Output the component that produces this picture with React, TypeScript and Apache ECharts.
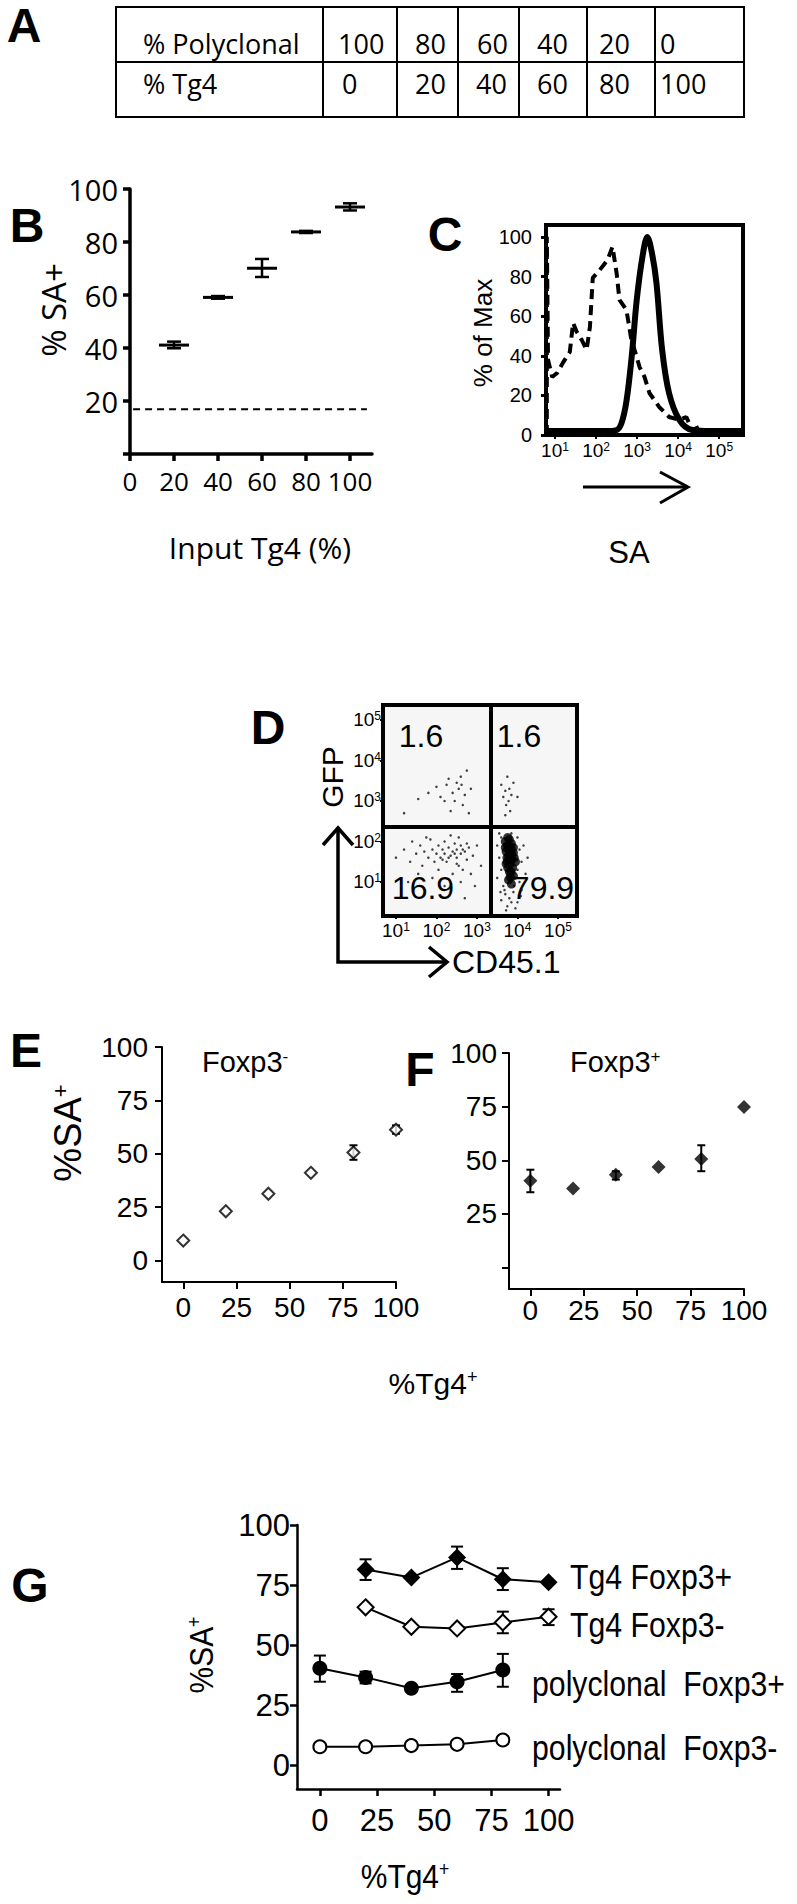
import React, { useEffect, useRef } from 'react';
import * as echarts from 'echarts';

const ARIAL = '"Liberation Sans", Arial, sans-serif';
const OPEN = '"Open Sans", "Liberation Sans", sans-serif';

// ---------- Panel A (table) ----------
const tableRowLabels = ['% Polyclonal', '% Tg4'];
const polyclonalPct = [100, 80, 60, 40, 20, 0];
const tg4Pct = [0, 20, 40, 60, 80, 100];

// ---------- Panel B ----------
const bInput = [20, 40, 60, 80, 100];
const bMean = [41.1, 59.1, 70.1, 83.8, 93.2];
const bLow = [39.9, 58.6, 66.8, 83.4, 91.9];
const bHigh = [42.4, 59.6, 73.6, 84.2, 94.6];
const bBaseline = 16.9;
const bBaselineSpan = [1.4, 107.7];
const bXTicks = [0, 20, 40, 60, 80, 100];
const bYTicks = [0, 20, 40, 60, 80, 100];
const bYLabels = [20, 40, 60, 80, 100];

// ---------- Panel C (histogram, x = log10 SA, y = % of max) ----------
const cSolid = [
  [0.78, 2], [1.5, 2], [2.2, 2], [2.5, 2.5], [2.62, 6], [2.74, 17], [2.87, 40], [2.99, 68],
  [3.13, 90], [3.25, 100], [3.36, 92], [3.47, 77], [3.61, 43], [3.78, 21], [4.03, 7.6],
  [4.34, 2.5], [4.8, 2], [5.58, 2],
];
const cDashed = [
  [0.8, 0], [0.8, 100], [0.83, 37.9], [0.93, 29.3], [1.05, 31.3], [1.19, 36.4], [1.36, 41.9],
  [1.44, 56.6], [1.53, 52], [1.65, 48], [1.77, 43], [1.85, 54.5], [1.92, 79.3], [2.09, 83.3],
  [2.28, 88.4], [2.4, 95], [2.5, 81.8], [2.57, 68.2], [2.74, 63.1], [2.86, 48], [2.99, 39.4],
  [3.06, 34.3], [3.18, 29.3], [3.3, 21.2], [3.54, 14.1], [3.78, 9.1], [4.03, 7.6], [4.2, 9.1],
  [4.34, 2.5], [4.51, 4], [4.75, 1], [5.55, 0.5],
];
const cTicksY = [0, 20, 40, 60, 80, 100];
const cDecades = [1, 2, 3, 4, 5];

// ---------- Panel D (dot plot, log10 CD45.1 vs log10 GFP) ----------
const dSparse = [
  // GFP+ CD45.1-
  [1.55, 3.05], [1.8, 3.2], [2.0, 3.35], [2.1, 3.1], [2.25, 3.4], [2.3, 3.55], [2.4, 3.2], [2.45, 3.0],
  [2.5, 3.45], [2.55, 3.3], [2.6, 3.6], [2.65, 2.9], [2.7, 3.15], [2.75, 3.75], [2.8, 2.7], [2.35, 2.75],
  [1.2, 2.7], [2.85, 3.3], [2.2, 3.0], [2.62, 3.4],
  // GFP+ CD45.1+
  [3.6, 3.4], [3.65, 3.1], [3.7, 3.25], [3.72, 2.9], [3.75, 3.6], [3.78, 3.0], [3.8, 3.3], [3.82, 2.75],
  [3.85, 3.15], [3.7, 2.65], [4.0, 3.1], [3.9, 3.45],
  // GFP- CD45.1-
  [1.0, 1.6], [1.2, 1.8], [1.35, 1.5], [1.4, 2.0], [1.5, 1.7], [1.6, 1.9], [1.65, 1.4], [1.7, 1.75],
  [1.8, 1.6], [1.85, 2.05], [1.9, 1.8], [1.95, 1.5], [2.0, 1.7], [2.05, 1.9], [2.1, 1.6], [2.15, 1.8],
  [2.2, 1.7], [2.2, 2.0], [2.25, 1.5], [2.3, 1.85], [2.35, 1.65], [2.4, 1.75], [2.45, 1.95], [2.5, 1.6],
  [2.5, 1.8], [2.55, 1.4], [2.6, 1.7], [2.6, 1.9], [2.65, 1.3], [2.7, 1.75], [2.75, 1.55], [2.8, 1.85],
  [2.85, 1.2], [2.9, 1.65], [3.0, 1.9], [2.4, 1.2], [2.6, 1.0], [2.2, 0.9], [2.7, 0.6], [1.9, 1.1],
  [3.1, 1.4], [2.35, 2.15], [2.55, 2.1], [1.75, 2.1], [2.95, 0.9], [2.3, 1.6], [2.45, 1.7],
  [2.65, 1.8], [2.15, 1.55], [2.5, 1.45], [2.75, 1.95], [1.55, 1.2], [1.3, 1.0], [2.05, 1.3],
  // GFP- CD45.1+ (outer)
  [3.5, 1.9], [3.55, 1.6], [3.6, 2.1], [3.6, 1.3], [4.0, 2.1], [4.05, 1.8], [4.1, 1.5], [4.15, 1.9],
  [4.2, 1.2], [3.65, 0.9], [3.7, 0.7], [3.8, 0.6], [3.9, 0.75], [4.0, 0.5], [3.75, 0.4], [3.95, 0.35],
  [4.05, 1.0], [3.6, 0.55], [4.1, 0.8], [3.55, 2.2], [3.85, 2.2], [4.25, 1.6], [3.5, 1.1], [4.0, 1.3],
  [3.68, 0.8], [3.85, 0.5], [3.92, 0.9], [3.72, 0.3], [4.08, 0.65], [3.58, 0.75],
];
const dCore = [
  [3.7, 2.0], [3.75, 1.9], [3.8, 2.05], [3.85, 1.95], [3.9, 1.85], [3.72, 1.75], [3.78, 1.65],
  [3.85, 1.7], [3.92, 1.6], [3.75, 1.5], [3.82, 1.45], [3.88, 1.35], [3.95, 1.5], [3.7, 1.85],
  [3.8, 1.25], [3.9, 1.15], [3.78, 1.05], [3.85, 0.95], [3.76, 2.1], [3.84, 1.82], [3.74, 1.6],
  [3.8, 1.55], [3.86, 1.55], [3.76, 1.35], [3.84, 1.25], [3.8, 1.75], [3.9, 1.72], [3.72, 1.45],
  [3.82, 1.12], [3.78, 1.9],
];
const dGateX = 3.35;
const dGateY = 2.37;
const dQuadrantPct = ['1.6', '1.6', '16.9', '79.9'];

// ---------- Panel E (Foxp3-) ----------
const eX = [0, 20, 40, 60, 80, 100];
const eY = [9.4, 23.1, 31.3, 41.1, 50.6, 61.3];
const eLow = [9.4, 23.1, 31.3, 41.1, 47.2, 59.4];
const eHigh = [9.4, 23.1, 31.3, 41.1, 54.0, 63.3];

// ---------- Panel F (Foxp3+) ----------
const fX = [0, 20, 40, 60, 80, 100];
const fY = [40.5, 36.9, 43.3, 46.9, 50.6, 74.8];
const fLow = [35.1, 36.9, 41.0, 46.9, 44.9, 74.8];
const fHigh = [45.6, 36.9, 44.9, 46.9, 57.0, 74.8];

const efTicks = [0, 25, 50, 75, 100];
const fYLabels = [25, 50, 75, 100];

// ---------- Panel G ----------
const gNames = ['Tg4 Foxp3+', 'Tg4 Foxp3-', 'polyclonal  Foxp3+', 'polyclonal  Foxp3-'];
const gTg4X = [20, 40, 60, 80, 100];
const gTg4PosY = [81.5, 78.1, 86.5, 77.4, 76.1];
const gTg4PosLow = [77.1, 78.1, 81.7, 72.9, 76.1];
const gTg4PosHigh = [85.7, 78.1, 91.0, 82.0, 76.1];
const gTg4NegY = [65.7, 57.6, 56.9, 59.4, 61.8];
const gTg4NegLow = [65.7, 57.6, 56.9, 54.9, 58.3];
const gTg4NegHigh = [65.7, 57.6, 56.9, 63.9, 64.9];
const gPolyX = [0, 20, 40, 60, 80];
const gPolyPosY = [40.3, 36.5, 32.0, 34.7, 39.6];
const gPolyPosLow = [34.7, 34.0, 32.0, 30.5, 32.6];
const gPolyPosHigh = [45.6, 38.9, 32.0, 37.9, 46.3];
const gPolyNegY = [7.6, 7.6, 8.1, 8.6, 10.4];

const pairs = (xs: number[], ys: number[]) => xs.map((x, i) => [x, ys[i]]);
const rows = (xs: number[], ys: number[], lo: number[], hi: number[]) =>
  xs.map((x, i) => [x, ys[i], lo[i], hi[i]]);

function errRender(capHalf: number, lw: number, meanHalf = 0, meanLw = 0) {
  return (params: any, api: any) => {
    const x = api.value(0);
    const m = api.value(1);
    const lo = api.value(2);
    const hi = api.value(3);
    const children: any[] = [];
    const pm = api.coord([x, m]);
    if (meanHalf > 0) {
      children.push({
        type: 'line',
        shape: { x1: pm[0] - meanHalf, y1: pm[1], x2: pm[0] + meanHalf, y2: pm[1] },
        style: { stroke: '#000', lineWidth: meanLw },
      });
    }
    if (hi - lo > 0.05) {
      const pl = api.coord([x, lo]);
      const ph = api.coord([x, hi]);
      const st = { stroke: '#000', lineWidth: lw };
      children.push({ type: 'line', shape: { x1: pl[0], y1: pl[1], x2: ph[0], y2: ph[1] }, style: st });
      children.push({ type: 'line', shape: { x1: pl[0] - capHalf, y1: pl[1], x2: pl[0] + capHalf, y2: pl[1] }, style: st });
      children.push({ type: 'line', shape: { x1: ph[0] - capHalf, y1: ph[1], x2: ph[0] + capHalf, y2: ph[1] }, style: st });
    }
    return { type: 'group', children };
  };
}

function axis(
  gridIndex: number, min: number, max: number, lw: number, tickVals: number[], labelVals: number[],
  label: any, tickLen: number, showLine = true
) {
  return {
    gridIndex, type: 'value', min, max,
    axisLine: { show: showLine, onZero: false, lineStyle: { color: '#000', width: lw } },
    axisTick: { show: true, inside: false, length: tickLen, lineStyle: { color: '#000', width: lw }, customValues: tickVals },
    axisLabel: { customValues: labelVals, color: '#000', ...label },
    splitLine: { show: false },
  };
}

function txt(text: string, x: number, y: number, size: number, opts: any = {}) {
  const align = opts.align || 'center';
  const vAlign = opts.vAlign || 'middle';
  return {
    type: 'text', x, y, rotation: opts.rotation || 0, scaleX: opts.scaleX || 1, silent: true,
    style: {
      text, fill: '#000', fontSize: size, fontFamily: opts.family || ARIAL,
      fontWeight: opts.weight || 'normal', lineHeight: opts.lineHeight || size,
      align, verticalAlign: vAlign, textAlign: align, textVerticalAlign: vAlign,
      rich: opts.rich,
    },
  };
}
const supRich = (size: number) => ({
  s: { fontSize: size, lineHeight: Math.round(size * 0.5), verticalAlign: 'top', fontFamily: ARIAL, fill: '#000' },
});
const line = (x1: number, y1: number, x2: number, y2: number, w: number) => ({
  type: 'line', silent: true, shape: { x1, y1, x2, y2 }, style: { stroke: '#000', lineWidth: w },
});
const poly = (pts: number[][], w: number) => ({
  type: 'polyline', silent: true, shape: { points: pts }, style: { stroke: '#000', lineWidth: w, fill: 'none' },
});

function buildGraphic() {
  const g: any[] = [];
  // Panel letters
  const letters: [string, number, number][] = [
    ['A', 24, 25], ['B', 27, 225], ['C', 445, 234], ['D', 268, 727], ['E', 26, 1050], ['F', 420, 1069], ['G', 30, 1585],
  ];
  letters.forEach(([t, x, y]) => g.push(txt(t, x, y, 48, { weight: 'bold' })));

  // Table A
  g.push({ type: 'rect', silent: true, shape: { x: 116, y: 7, width: 628, height: 110 }, style: { fill: 'none', stroke: '#000', lineWidth: 2 } });
  g.push(line(116, 62, 744, 62, 2));
  [323, 397, 458, 519, 587, 655].forEach((x) => g.push(line(x, 7, x, 117, 2)));
  g.push(txt(tableRowLabels[0], 143, 43, 27, { family: OPEN, align: 'left' }));
  g.push(txt(tableRowLabels[1], 143, 83, 27, { family: OPEN, align: 'left' }));
  const row1X = [338, 415, 477, 537, 599, 660];
  const row2X = [342, 415, 476, 537, 599, 660];
  polyclonalPct.forEach((v, i) => g.push(txt(String(v), row1X[i], 43, 27, { family: OPEN, align: 'left' })));
  tg4Pct.forEach((v, i) => g.push(txt(String(v), row2X[i], 83, 27, { family: OPEN, align: 'left' })));

  // B titles
  g.push(txt('% SA+', 53, 310, 33, { family: OPEN, rotation: Math.PI / 2 }));
  g.push(txt('Input Tg4 (%)', 260, 547, 30, { family: OPEN }));

  // C titles and arrow
  g.push(txt('% of Max', 483, 333, 26, { rotation: Math.PI / 2 }));
  g.push(txt('SA', 629, 552, 31));
  g.push(line(583, 487, 686, 487, 3));
  g.push(poly([[660, 472], [688, 487], [660, 503]], 3));

  // D arrows, titles, quadrant numbers
  g.push(poly([[338, 829], [338, 962], [446, 962]], 3.5));
  g.push(poly([[323, 845], [338, 828], [353, 845]], 3.5));
  g.push(poly([[429, 947], [447, 962], [429, 977]], 3.5));
  g.push(txt('GFP', 332, 777, 30, { rotation: Math.PI / 2 }));
  g.push(txt('CD45.1', 452, 962, 32, { align: 'left' }));
  const qPos = [[421, 736], [519, 736], [423, 888], [543, 888]];
  dQuadrantPct.forEach((t, i) => g.push(txt(t, qPos[i][0], qPos[i][1], 32)));

  // E / F titles
  g.push(txt('%SA{s|+}', 68, 1133, 38, { rotation: Math.PI / 2, rich: supRich(22) }));
  g.push(txt('Foxp3{s|-}', 202, 1062, 29, { align: 'left', rich: supRich(17) }));
  g.push(txt('Foxp3{s|+}', 570, 1062, 29, { align: 'left', rich: supRich(17) }));
  g.push(txt('%Tg4{s|+}', 433, 1383, 30, { rich: supRich(18) }));

  // G titles & legend labels (condensed lettering)
  g.push(txt('%SA{s|+}', 201, 1655, 34, { rotation: Math.PI / 2, scaleX: 0.88, rich: supRich(20) }));
  g.push(txt('%Tg4{s|+}', 405, 1876, 34, { scaleX: 0.88, rich: supRich(20) }));
  g.push(txt(gNames[0], 570, 1577, 36, { align: 'left', scaleX: 0.84 }));
  g.push(txt(gNames[1], 570, 1625, 36, { align: 'left', scaleX: 0.84 }));
  g.push(txt(gNames[2], 532, 1684, 36, { align: 'left', scaleX: 0.84 }));
  g.push(txt(gNames[3], 532, 1748, 36, { align: 'left', scaleX: 0.84 }));
  return g;
}

function buildOption() {
  const logFmt = (v: number) => `{b|10}{s|${Math.round(v)}}`;
  const logRich = (b: number, s: number) => ({
    b: { fontSize: b, lineHeight: b, fontFamily: ARIAL, color: '#000' },
    s: { fontSize: s, lineHeight: Math.round(s * 0.6), verticalAlign: 'top', fontFamily: ARIAL, color: '#000' },
  });
  const bLabel = { fontFamily: OPEN, fontSize: 26 };
  const efLabel = { fontFamily: ARIAL, fontSize: 28 };
  const gLabel = { fontFamily: ARIAL, fontSize: 31 };

  return {
    animation: false,
    backgroundColor: '#ffffff',
    grid: [
      { left: 130, top: 189, width: 242, height: 265, outerBoundsMode: 'none' },
      { left: 546, top: 225, width: 197, height: 210, show: true, borderColor: '#000', borderWidth: 4, backgroundColor: 'transparent', outerBoundsMode: 'none' },
      { left: 383, top: 705, width: 194, height: 211, show: true, borderColor: '#000', borderWidth: 4, backgroundColor: '#f6f6f6', outerBoundsMode: 'none' },
      { left: 162, top: 1047, width: 234, height: 235, outerBoundsMode: 'none' },
      { left: 509, top: 1053, width: 235, height: 236, outerBoundsMode: 'none' },
      { left: 297, top: 1525, width: 263, height: 264, outerBoundsMode: 'none' },
    ],
    xAxis: [
      axis(0, 0, 110, 3.5, bXTicks, bXTicks, { ...bLabel, margin: 14 }, 7),
      axis(1, 0.78, 5.58, 2, cDecades, cDecades, { formatter: logFmt, rich: logRich(19, 12), margin: 6 }, 4, false),
      axis(2, 0.68, 5.47, 2, cDecades, cDecades, { formatter: logFmt, rich: logRich(19, 12), margin: 5 }, 3, false),
      axis(3, -10, 100, 2, efTicks, efTicks, { ...efLabel, margin: 11 }, 7),
      axis(4, -10, 100, 2, efTicks, efTicks, { ...efLabel, margin: 7 }, 7),
      axis(5, -10, 105, 2.5, efTicks, efTicks, { ...gLabel, margin: 16 }, 7),
    ],
    yAxis: [
      axis(0, 0, 100, 3.5, bYTicks, bYLabels, { ...bLabel, fontSize: 29, margin: 12 }, 7),
      axis(1, 0, 106, 3, cTicksY, cTicksY, { fontFamily: ARIAL, fontSize: 20, margin: 14 }, 5, false),
      axis(2, 0.16, 5.37, 2, cDecades, cDecades, { formatter: logFmt, rich: logRich(19, 12), margin: 2 }, 3, false),
      axis(3, -10, 100, 2, efTicks, efTicks, { ...efLabel, margin: 14 }, 7),
      axis(4, -10, 100, 2, efTicks, fYLabels, { ...efLabel, margin: 12 }, 7),
      axis(5, -10, 100, 2.5, efTicks, efTicks, { ...gLabel, margin: 7 }, 7),
    ],
    series: [
      // B
      {
        type: 'custom', xAxisIndex: 0, yAxisIndex: 0, renderItem: errRender(7, 2.5, 15, 3),
        data: rows(bInput, bMean, bLow, bHigh), encode: { x: 0, y: 1 }, silent: true,
      },
      {
        type: 'line', xAxisIndex: 0, yAxisIndex: 0, symbol: 'none', silent: true,
        data: bBaselineSpan.map((x) => [x, bBaseline]),
        lineStyle: { color: '#000', width: 2, type: [7, 5] },
      },
      // C
      {
        type: 'line', xAxisIndex: 1, yAxisIndex: 1, symbol: 'none', silent: true, data: cDashed,
        lineStyle: { color: '#000', width: 4, type: [10, 6] }, z: 3,
      },
      {
        type: 'line', xAxisIndex: 1, yAxisIndex: 1, symbol: 'none', silent: true, data: cSolid, smooth: 0.35,
        lineStyle: { color: '#000', width: 6 }, z: 4,
      },
      // D
      {
        type: 'scatter', xAxisIndex: 2, yAxisIndex: 2, data: dSparse, symbolSize: 2.5, silent: true,
        itemStyle: { color: '#111' },
        markLine: {
          silent: true, symbol: 'none', label: { show: false },
          lineStyle: { color: '#000', width: 4, type: 'solid' },
          data: [{ xAxis: dGateX }, { yAxis: dGateY }],
        },
      },
      {
        type: 'scatter', xAxisIndex: 2, yAxisIndex: 2, data: dCore, symbolSize: 9, silent: true,
        itemStyle: { color: '#000' },
      },
      // E
      {
        type: 'custom', xAxisIndex: 3, yAxisIndex: 3, renderItem: errRender(4, 2),
        data: rows(eX, eY, eLow, eHigh), encode: { x: 0, y: 1 }, silent: true, z: 1,
      },
      {
        type: 'scatter', xAxisIndex: 3, yAxisIndex: 3, data: pairs(eX, eY), symbol: 'diamond', symbolSize: [12, 12],
        itemStyle: { color: '#fff', borderColor: '#000', borderWidth: 2 }, silent: true, z: 3,
      },
      // F
      {
        type: 'custom', xAxisIndex: 4, yAxisIndex: 4, renderItem: errRender(4, 2),
        data: rows(fX, fY, fLow, fHigh), encode: { x: 0, y: 1 }, silent: true, z: 1,
      },
      {
        type: 'scatter', xAxisIndex: 4, yAxisIndex: 4, data: pairs(fX, fY), symbol: 'diamond', symbolSize: [14, 14],
        itemStyle: { color: '#000' }, silent: true, z: 3,
      },
      // G error bars
      {
        type: 'custom', xAxisIndex: 5, yAxisIndex: 5, renderItem: errRender(6, 2),
        data: rows(gTg4X, gTg4PosY, gTg4PosLow, gTg4PosHigh), encode: { x: 0, y: 1 }, silent: true, z: 1,
      },
      {
        type: 'custom', xAxisIndex: 5, yAxisIndex: 5, renderItem: errRender(6, 2),
        data: rows(gTg4X, gTg4NegY, gTg4NegLow, gTg4NegHigh), encode: { x: 0, y: 1 }, silent: true, z: 1,
      },
      {
        type: 'custom', xAxisIndex: 5, yAxisIndex: 5, renderItem: errRender(6, 2),
        data: rows(gPolyX, gPolyPosY, gPolyPosLow, gPolyPosHigh), encode: { x: 0, y: 1 }, silent: true, z: 1,
      },
      // G lines
      {
        name: gNames[0], type: 'line', xAxisIndex: 5, yAxisIndex: 5, data: pairs(gTg4X, gTg4PosY),
        symbol: 'diamond', symbolSize: [18, 18], showAllSymbol: true, silent: true,
        lineStyle: { color: '#000', width: 2 }, itemStyle: { color: '#000', borderColor: '#000', borderWidth: 0 }, z: 3,
      },
      {
        name: gNames[1], type: 'line', xAxisIndex: 5, yAxisIndex: 5, data: pairs(gTg4X, gTg4NegY),
        symbol: 'diamond', symbolSize: [16, 16], showAllSymbol: true, silent: true,
        lineStyle: { color: '#000', width: 2 }, itemStyle: { color: '#fff', borderColor: '#000', borderWidth: 2 }, z: 3,
      },
      {
        name: gNames[2], type: 'line', xAxisIndex: 5, yAxisIndex: 5, data: pairs(gPolyX, gPolyPosY),
        symbol: 'circle', symbolSize: 15, showAllSymbol: true, silent: true,
        lineStyle: { color: '#000', width: 2 }, itemStyle: { color: '#000', borderColor: '#000', borderWidth: 0 }, z: 3,
      },
      {
        name: gNames[3], type: 'line', xAxisIndex: 5, yAxisIndex: 5, data: pairs(gPolyX, gPolyNegY),
        symbol: 'circle', symbolSize: 13, showAllSymbol: true, silent: true,
        lineStyle: { color: '#000', width: 2 }, itemStyle: { color: '#fff', borderColor: '#000', borderWidth: 2 }, z: 3,
      },
    ],
    graphic: buildGraphic(),
  };
}

export default function App() {
  const ref = useRef<HTMLDivElement>(null);
  useEffect(() => {
    document.body.style.margin = '0';
    const chart = echarts.init(ref.current as HTMLDivElement, null, { renderer: 'svg', width: 797, height: 1904 });
    chart.setOption(buildOption() as any);
    return () => chart.dispose();
  }, []);
  return (
    <div
      ref={ref}
      style={{ position: 'absolute', left: 0, top: 0, width: 797, height: 1904, background: '#fff' }}
    />
  );
}
